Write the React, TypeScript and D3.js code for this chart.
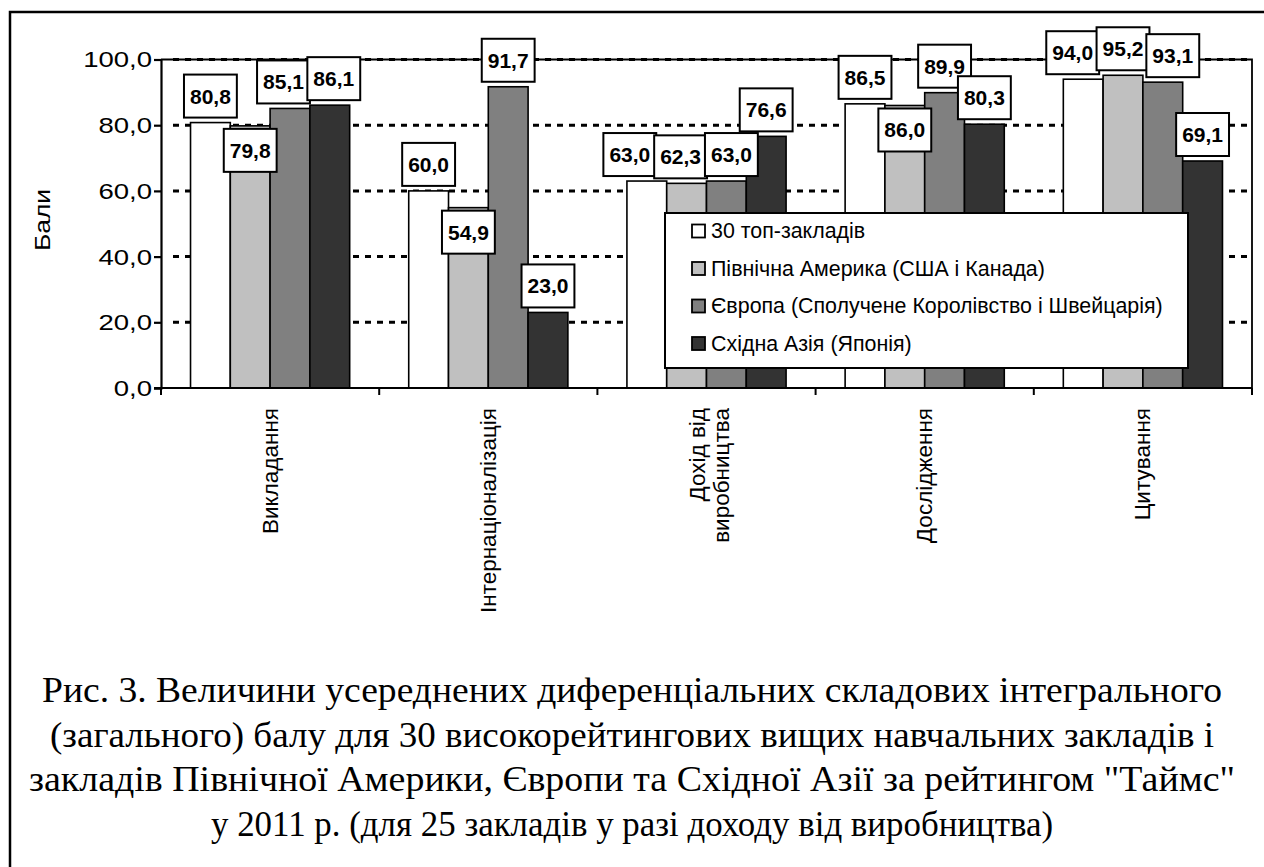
import React, { useRef, useEffect } from "react";
import * as d3 from "d3";

const categories = [
  "Викладання",
  "Інтернаціоналізація",
  "Дохід від|виробництва",
  "Дослідження",
  "Цитування",
];
const seriesNames = [
  "30 топ-закладів",
  "Північна Америка (США і Канада)",
  "Європа (Сполучене Королівство і Швейцарія)",
  "Східна Азія (Японія)",
];
const top30 = [80.8, 60.0, 63.0, 86.5, 94.0];
const northAmerica = [79.8, 54.9, 62.3, 86.0, 95.2];
const europe = [85.1, 91.7, 63.0, 89.9, 93.1];
const eastAsia = [86.1, 23.0, 76.6, 80.3, 69.1];
const yTicks = [0, 20, 40, 60, 80, 100];
// labels that Excel pushed under the bar top ("series:category")
const labelsBelow = ["1:0", "1:1", "1:3"];
// sideways nudges Excel made so crowded labels don't collide
const labelNudge = { "2:0": -6.5, "3:0": 4, "0:2": -17, "1:2": -6, "2:2": 5, "0:4": -10.5, "2:4": 10 };
const captionLines = [
  "Рис. 3. Величини усереднених диференціальних складових інтегрального",
  "(загального) балу для 30 високорейтингових вищих навчальних закладів і",
  "закладів Північної Америки, Європи та Східної Азії за рейтингом \"Таймс\"",
  "у 2011 р. (для 25 закладів у разі доходу від виробництва)",
];

const fills = ["#ffffff", "#c0c0c0", "#808080", "#333333"];
const sans = "'Liberation Sans', Arial, sans-serif";

const App = () => {
  const svgRef = useRef(null);

  useEffect(() => {
    const svg = d3.select(svgRef.current);
    svg.selectAll("*").remove();

    const values = [top30, northAmerica, europe, eastAsia];
    const left = 161, right = 1252, top = 59.5, bottom = 388;

    const x = d3.scaleBand().domain(categories).range([left, right]);
    const xs = d3
      .scaleBand()
      .domain(d3.range(seriesNames.length))
      .range([0, x.bandwidth()])
      .paddingOuter(0.742);
    const y = d3.scaleLinear().domain([0, 100]).range([bottom, top]);
    const fmt = (v) => d3.format(".1f")(v).replace(".", ",");

    // outer frame
    svg.append("rect")
      .attr("x", 10).attr("y", 12).attr("width", 1270).attr("height", 880)
      .attr("fill", "none").attr("stroke", "#000").attr("stroke-width", 2.5);

    // grid
    svg.append("g")
      .selectAll("line")
      .data(yTicks.filter((d) => d > 0))
      .join("line")
      .attr("x1", left + 12).attr("x2", right)
      .attr("y1", (d) => y(d)).attr("y2", (d) => y(d))
      .attr("stroke", "#000").attr("stroke-width", 3)
      .attr("stroke-dasharray", "6,6");

    // plot border top + right
    svg.append("path")
      .attr("d", `M${left},${top}H${right}V${bottom}`)
      .attr("fill", "none").attr("stroke", "#000").attr("stroke-width", 1.8);

    // bars
    values.forEach((vals, si) => {
      svg.append("g")
        .selectAll("rect")
        .data(vals)
        .join("rect")
        .attr("x", (d, i) => x(categories[i]) + xs(si))
        .attr("y", (d) => y(d))
        .attr("width", xs.bandwidth())
        .attr("height", (d) => y(0) - y(d))
        .attr("fill", fills[si])
        .attr("stroke", "#000").attr("stroke-width", 1.6);
    });

    // y axis
    const yAxis = svg.append("g")
      .attr("transform", `translate(${left},0)`)
      .call(d3.axisLeft(y).tickValues(yTicks).tickSize(7).tickPadding(0).tickFormat(fmt));
    yAxis.select(".domain").attr("stroke-width", 2.2);
    yAxis.selectAll(".tick line").attr("stroke-width", 2.2);
    yAxis.selectAll(".tick text")
      .attr("x", null).attr("dy", null)
      .attr("transform", "translate(-9,0) scale(1.28,1)")
      .attr("dominant-baseline", "central")
      .attr("font-family", sans).attr("font-size", 21.5).attr("fill", "#000");

    // x axis
    const xAxisG = svg.append("g").attr("transform", `translate(0,${bottom})`);
    xAxisG.append("line")
      .attr("x1", left - 7).attr("x2", right).attr("y1", 0).attr("y2", 0)
      .attr("stroke", "#000").attr("stroke-width", 2.2);
    xAxisG.selectAll(".tk")
      .data(categories.map((c) => x(c)).concat([right]))
      .join("line")
      .attr("x1", (d) => d).attr("x2", (d) => d)
      .attr("y1", 0).attr("y2", 7)
      .attr("stroke", "#000").attr("stroke-width", 2);

    categories.forEach((c) => {
      const lines = c.split("|");
      const cx = x(c) + x.bandwidth() / 2;
      lines.forEach((ln, li) => {
        const off = (li - (lines.length - 1) / 2) * 24 + (lines.length > 1 ? 3 : 0);
        svg.append("text")
          .attr("transform", `translate(${cx + off},${bottom + 20}) rotate(-90)`)
          .attr("text-anchor", "end")
          .attr("dominant-baseline", "central")
          .attr("font-family", sans).attr("font-size", 22.5)
          .text(ln);
      });
    });

    // y title
    svg.append("text")
      .attr("transform", `translate(42,220) rotate(-90) scale(1.2,1)`)
      .attr("text-anchor", "middle")
      .attr("dominant-baseline", "central")
      .attr("font-family", sans).attr("font-size", 22)
      .text("Бали");

    // data labels
    values.forEach((vals, si) => {
      vals.forEach((v, ci) => {
        const key = `${si}:${ci}`;
        const cx = x(categories[ci]) + xs(si) + xs.bandwidth() / 2 + (labelNudge[key] || 0);
        const below = labelsBelow.includes(key);
        const h = 43;
        const by = below ? y(v) + 3 : y(v) - 5 - h;
        const g = svg.append("g");
        const rect = g.append("rect")
          .attr("y", by).attr("height", h)
          .attr("fill", "#fff").attr("stroke", "#000").attr("stroke-width", 2);
        const t = g.append("text")
          .attr("x", cx).attr("y", by + h / 2)
          .attr("text-anchor", "middle").attr("dominant-baseline", "central")
          .attr("font-family", sans).attr("font-size", 21).attr("font-weight", "bold")
          .text(fmt(v));
        const w = t.node().getComputedTextLength() + 12;
        rect.attr("x", cx - w / 2).attr("width", w);
      });
    });

    // legend
    const lg = svg.append("g").attr("transform", "translate(665,213)");
    lg.append("rect")
      .attr("width", 523).attr("height", 155)
      .attr("fill", "#fff").attr("stroke", "#000").attr("stroke-width", 2);
    seriesNames.forEach((s, i) => {
      const cy = 18 + i * 37.5;
      lg.append("rect")
        .attr("x", 27).attr("y", cy - 6.5).attr("width", 13).attr("height", 13)
        .attr("fill", fills[i]).attr("stroke", "#000").attr("stroke-width", 1.8);
      lg.append("text")
        .attr("x", 46).attr("y", cy)
        .attr("dominant-baseline", "central")
        .attr("font-family", sans).attr("font-size", 21.4)
        .text(s);
    });

    // caption
    const capWidths = [1180, 1164, 1206, 842];
    captionLines.forEach((ln, i) => {
      svg.append("text")
        .attr("x", 632).attr("y", 702 + i * 44.5)
        .attr("text-anchor", "middle")
        .attr("font-family", "'Liberation Serif', 'Times New Roman', serif")
        .attr("font-size", 36)
        .attr("textLength", capWidths[i])
        .attr("lengthAdjust", "spacingAndGlyphs")
        .text(ln);
    });
  }, []);

  return (
    <svg
      ref={svgRef}
      width={1264}
      height={867}
      viewBox="0 0 1264 867"
      style={{ position: "absolute", left: 0, top: 0, background: "#fff" }}
    />
  );
};

export default App;
